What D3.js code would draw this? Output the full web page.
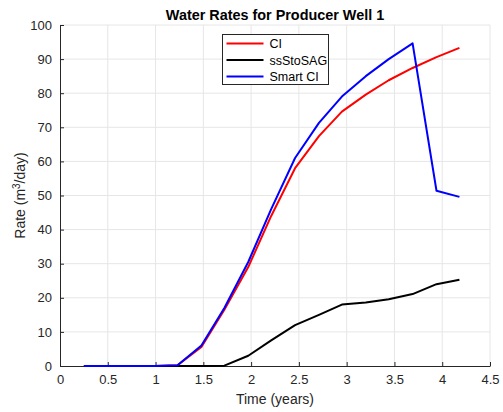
<!DOCTYPE html>
<html>
<head>
<meta charset="utf-8">
<script src="https://cdn.jsdelivr.net/npm/d3@7"></script>
<style>
  body { margin: 0; background: #fff; }
  text { font-family: "Liberation Sans", Arial, sans-serif; }
</style>
</head>
<body>
<div id="chart"></div>
<script>
// Water rates, producer well 1
const times = [0.25, 0.5, 0.74, 0.99, 1.23, 1.48, 1.72, 1.97, 2.21, 2.46, 2.71, 2.95, 3.2, 3.44, 3.69, 3.94, 4.18];
const ciRates = [0, 0, 0, 0, 0.2, 5.6, 16.5, 29, 44, 58, 67.4, 74.6, 79.6, 83.8, 87.4, 90.6, 93.3];
const ssStoSagRates = [0, 0, 0, 0, 0, 0, 0.1, 3, 7.5, 12, 15, 18, 18.6, 19.6, 21.1, 24, 25.3];
const smartCiRates = [0, 0, 0, 0, 0.2, 6, 17, 30.5, 46, 61, 71.3, 79, 85, 90, 94.6, 51.4, 49.6];
const seriesNames = ['CI', 'ssStoSAG', 'Smart CI'];
const seriesColors = ['#ff0000', '#000000', '#0000ff'];
const xTicks = [0, 0.5, 1, 1.5, 2, 2.5, 3, 3.5, 4, 4.5];
const yTicks = [0, 10, 20, 30, 40, 50, 60, 70, 80, 90, 100];

const width = 503, height = 412;
const margin = { top: 25, right: 13, bottom: 46, left: 60 };
const innerWidth = width - margin.left - margin.right;
const innerHeight = height - margin.top - margin.bottom;

const svg = d3.select('#chart').append('svg')
  .attr('width', width)
  .attr('height', height);

const g = svg.append('g')
  .attr('transform', `translate(${margin.left},${margin.top})`);

const xScale = d3.scaleLinear().domain([0, 4.5]).range([0, innerWidth]);
const yScale = d3.scaleLinear().domain([0, 100]).range([innerHeight, 0]);

// Grid
g.append('g').selectAll('line.vgrid')
  .data(xTicks.slice(1))
  .enter().append('line')
  .attr('x1', d => xScale(d)).attr('x2', d => xScale(d))
  .attr('y1', 0).attr('y2', innerHeight)
  .attr('stroke', '#e6e6e6').attr('stroke-width', 1);

g.append('g').selectAll('line.hgrid')
  .data(yTicks.slice(1))
  .enter().append('line')
  .attr('x1', 0).attr('x2', innerWidth)
  .attr('y1', d => yScale(d)).attr('y2', d => yScale(d))
  .attr('stroke', '#e6e6e6').attr('stroke-width', 1);

// Axes
const xAxis = g.append('g')
  .attr('transform', `translate(0,${innerHeight})`)
  .call(d3.axisBottom(xScale).tickValues(xTicks).tickSize(-4).tickSizeOuter(0).tickPadding(9).tickFormat(d3.format('')));

const yAxis = g.append('g')
  .call(d3.axisLeft(yScale).tickValues(yTicks).tickSize(-4).tickSizeOuter(0).tickPadding(8));

[xAxis, yAxis].forEach(ax => {
  ax.select('.domain').attr('stroke', '#262626').attr('stroke-width', 1);
  ax.selectAll('.tick line').attr('stroke', '#262626');
  ax.selectAll('.tick text')
    .attr('fill', '#262626')
    .style('font-size', '13px')
    .style('font-family', '"Liberation Sans", Arial, sans-serif');
});

// Lines
const line = d3.line()
  .x((d, i) => xScale(times[i]))
  .y(d => yScale(d));

[ciRates, ssStoSagRates, smartCiRates].forEach((values, i) => {
  g.append('path')
    .datum(values)
    .attr('fill', 'none')
    .attr('stroke', seriesColors[i])
    .attr('stroke-width', 2)
    .attr('stroke-linejoin', 'round')
    .attr('d', line);
});

// Title
svg.append('text')
  .attr('x', margin.left + innerWidth / 2)
  .attr('y', 19.5)
  .attr('text-anchor', 'middle')
  .style('font-size', '14.4px')
  .style('font-weight', 'bold')
  .attr('fill', '#000')
  .text('Water Rates for Producer Well 1');

// Axis labels
svg.append('text')
  .attr('x', margin.left + innerWidth / 2)
  .attr('y', 404)
  .attr('text-anchor', 'middle')
  .style('font-size', '14px')
  .attr('fill', '#262626')
  .text('Time (years)');

const yLabel = svg.append('text')
  .attr('transform', `translate(25,${margin.top + innerHeight / 2}) rotate(-90)`)
  .attr('text-anchor', 'middle')
  .style('font-size', '14px')
  .attr('fill', '#262626');
yLabel.append('tspan').text('Rate (m');
yLabel.append('tspan').attr('dy', -5).style('font-size', '10px').text('3');
yLabel.append('tspan').attr('dy', 5).text('/day)');

// Legend
const legend = svg.append('g')
  .attr('transform', 'translate(222.5,34.5)');

legend.append('rect')
  .attr('width', 106)
  .attr('height', 50)
  .attr('fill', '#fff')
  .attr('stroke', '#262626')
  .attr('stroke-width', 1);

seriesNames.forEach((name, i) => {
  const row = legend.append('g')
    .attr('transform', `translate(0,${9 + i * 16.5})`);
  row.append('line')
    .attr('x1', 4).attr('x2', 41)
    .attr('y1', 0).attr('y2', 0)
    .attr('stroke', seriesColors[i])
    .attr('stroke-width', 2);
  row.append('text')
    .attr('x', 47)
    .attr('y', 4.5)
    .style('font-size', '12.5px')
    .attr('fill', '#000')
    .text(name);
});
</script>
</body>
</html>
